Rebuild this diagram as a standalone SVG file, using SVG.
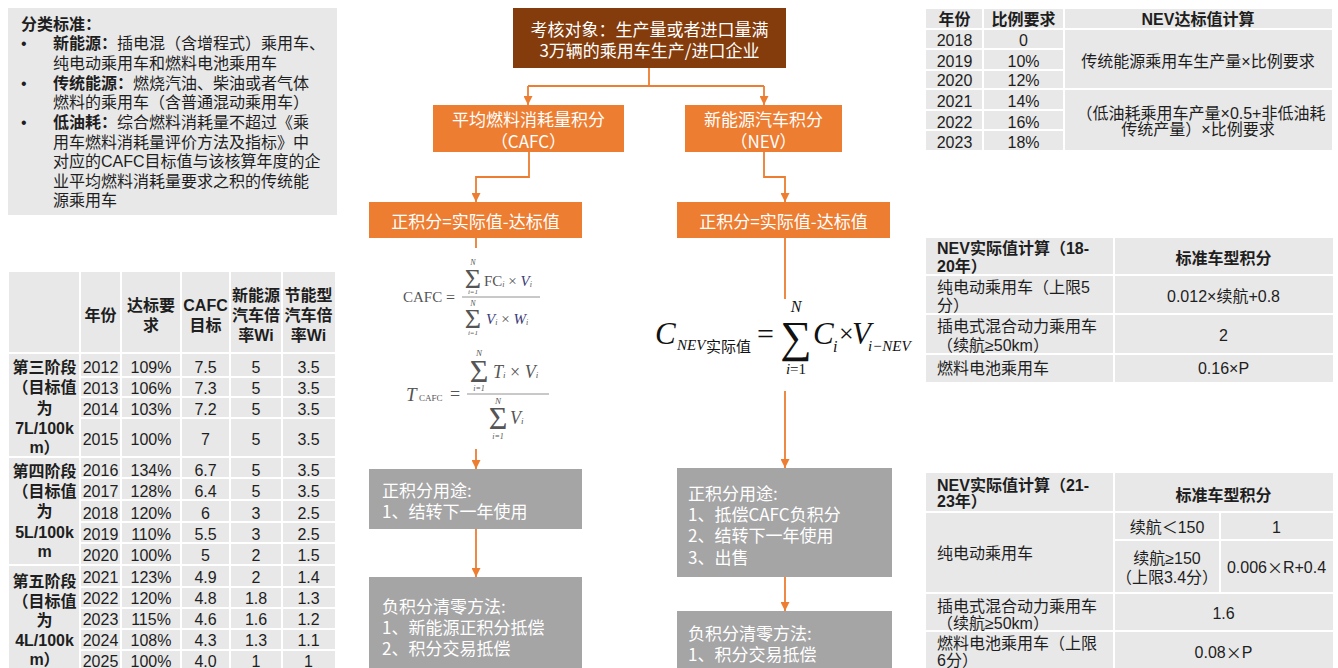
<svg xmlns="http://www.w3.org/2000/svg" width="1338" height="668" viewBox="0 0 1338 668">
<style>
.t{font-family:"Liberation Sans","Noto Sans CJK SC",sans-serif;font-size:16px;fill:#1e1e1e;dominant-baseline:central}
.c{text-anchor:middle}
.b{font-weight:bold}
.fc{font-family:"Noto Sans CJK SC",sans-serif;font-size:17px;fill:#ffffff;dominant-baseline:central}
.cell{fill:#e8e8e8}
.wl{stroke:#ffffff;stroke-width:2;fill:none}
.cn{stroke:#ed7d31;stroke-width:1.8;fill:none}
.m{font-family:"Liberation Serif",serif;dominant-baseline:central;fill:#555}
.mi{font-style:italic}
.bl{fill:#3b3b78}
.k{fill:#111}
.cj{font-family:"Noto Sans CJK SC",sans-serif}
</style>
<defs>
<marker id="ah" viewBox="0 0 10 10" refX="10" refY="5" markerWidth="9" markerHeight="9" markerUnits="userSpaceOnUse" orient="auto">
<path d="M0,0 L10,5 L0,10 z" fill="#ed7d31"/>
</marker>
</defs>

<!-- Top-left classification box -->
<g id="classification">
<rect x="8" y="8" width="329" height="207" class="cell"/>
<text class="t b" x="21" y="24">分类标准：</text>
<text class="t" x="21" y="43">•</text>
<text class="t" x="53" y="43"><tspan class="b">新能源：</tspan>插电混（含增程式）乘用车、</text>
<text class="t" x="53" y="63">纯电动乘用车和燃料电池乘用车</text>
<text class="t" x="21" y="83">•</text>
<text class="t" x="53" y="83"><tspan class="b">传统能源：</tspan>燃烧汽油、柴油或者气体</text>
<text class="t" x="53" y="102">燃料的乘用车（含普通混动乘用车）</text>
<text class="t" x="21" y="122">•</text>
<text class="t" x="53" y="122"><tspan class="b">低油耗：</tspan>综合燃料消耗量不超过《乘</text>
<text class="t" x="53" y="142">用车燃料消耗量评价方法及指标》中</text>
<text class="t" x="53" y="161">对应的CAFC目标值与该核算年度的企</text>
<text class="t" x="53" y="181">业平均燃料消耗量要求之积的传统能</text>
<text class="t" x="53" y="200">源乘用车</text>
</g>

<!-- Left CAFC table -->
<g id="cafc-table">
<rect x="9" y="272" width="326" height="400" class="cell"/>
<path class="wl" d="M80,272V668 M121,272V668 M181,272V668 M230,272V668 M282,272V668 M9,353H335 M80,377H335 M80,397H335 M80,418H335 M9,457H335 M80,478H335 M80,500H335 M80,522H335 M80,543H335 M9,565H335 M80,587H335 M80,608H335 M80,629H335 M80,650H335"/>
<text class="t b c" x="100.5" y="315">年份</text>
<text class="t b c" x="151" y="305">达标要</text>
<text class="t b c" x="151" y="325">求</text>
<text class="t b c" x="205.5" y="305">CAFC</text>
<text class="t b c" x="205.5" y="325">目标</text>
<text class="t b c" x="256" y="295">新能源</text>
<text class="t b c" x="256" y="315">汽车倍</text>
<text class="t b c" x="256" y="335">率Wi</text>
<text class="t b c" x="308.5" y="295">节能型</text>
<text class="t b c" x="308.5" y="315">汽车倍</text>
<text class="t b c" x="308.5" y="335">率Wi</text>
<text class="t b c" x="44.5" y="367">第三阶段</text>
<text class="t b c" x="44.5" y="387">（目标值</text>
<text class="t b c" x="44.5" y="408">为</text>
<text class="t b c" x="44.5" y="428">7L/100k</text>
<text class="t b c" x="44.5" y="447">m）</text>
<text class="t b c" x="44.5" y="471">第四阶段</text>
<text class="t b c" x="44.5" y="491">（目标值</text>
<text class="t b c" x="44.5" y="511">为</text>
<text class="t b c" x="44.5" y="532">5L/100k</text>
<text class="t b c" x="44.5" y="551">m</text>
<text class="t b c" x="44.5" y="581">第五阶段</text>
<text class="t b c" x="44.5" y="601">（目标值</text>
<text class="t b c" x="44.5" y="620">为</text>
<text class="t b c" x="44.5" y="640">4L/100k</text>
<text class="t b c" x="44.5" y="659">m）</text>
<text class="t c" x="100.5" y="367">2012</text><text class="t c" x="151" y="367">109%</text><text class="t c" x="205.5" y="367">7.5</text><text class="t c" x="256" y="367">5</text><text class="t c" x="308.5" y="367">3.5</text>
<text class="t c" x="100.5" y="388">2013</text><text class="t c" x="151" y="388">106%</text><text class="t c" x="205.5" y="388">7.3</text><text class="t c" x="256" y="388">5</text><text class="t c" x="308.5" y="388">3.5</text>
<text class="t c" x="100.5" y="409">2014</text><text class="t c" x="151" y="409">103%</text><text class="t c" x="205.5" y="409">7.2</text><text class="t c" x="256" y="409">5</text><text class="t c" x="308.5" y="409">3.5</text>
<text class="t c" x="100.5" y="439">2015</text><text class="t c" x="151" y="439">100%</text><text class="t c" x="205.5" y="439">7</text><text class="t c" x="256" y="439">5</text><text class="t c" x="308.5" y="439">3.5</text>
<text class="t c" x="100.5" y="470">2016</text><text class="t c" x="151" y="470">134%</text><text class="t c" x="205.5" y="470">6.7</text><text class="t c" x="256" y="470">5</text><text class="t c" x="308.5" y="470">3.5</text>
<text class="t c" x="100.5" y="491">2017</text><text class="t c" x="151" y="491">128%</text><text class="t c" x="205.5" y="491">6.4</text><text class="t c" x="256" y="491">5</text><text class="t c" x="308.5" y="491">3.5</text>
<text class="t c" x="100.5" y="513">2018</text><text class="t c" x="151" y="513">120%</text><text class="t c" x="205.5" y="513">6</text><text class="t c" x="256" y="513">3</text><text class="t c" x="308.5" y="513">2.5</text>
<text class="t c" x="100.5" y="534">2019</text><text class="t c" x="151" y="534">110%</text><text class="t c" x="205.5" y="534">5.5</text><text class="t c" x="256" y="534">3</text><text class="t c" x="308.5" y="534">2.5</text>
<text class="t c" x="100.5" y="555">2020</text><text class="t c" x="151" y="555">100%</text><text class="t c" x="205.5" y="555">5</text><text class="t c" x="256" y="555">2</text><text class="t c" x="308.5" y="555">1.5</text>
<text class="t c" x="100.5" y="577">2021</text><text class="t c" x="151" y="577">123%</text><text class="t c" x="205.5" y="577">4.9</text><text class="t c" x="256" y="577">2</text><text class="t c" x="308.5" y="577">1.4</text>
<text class="t c" x="100.5" y="598">2022</text><text class="t c" x="151" y="598">120%</text><text class="t c" x="205.5" y="598">4.8</text><text class="t c" x="256" y="598">1.8</text><text class="t c" x="308.5" y="598">1.3</text>
<text class="t c" x="100.5" y="619">2023</text><text class="t c" x="151" y="619">115%</text><text class="t c" x="205.5" y="619">4.6</text><text class="t c" x="256" y="619">1.6</text><text class="t c" x="308.5" y="619">1.2</text>
<text class="t c" x="100.5" y="640">2024</text><text class="t c" x="151" y="640">108%</text><text class="t c" x="205.5" y="640">4.3</text><text class="t c" x="256" y="640">1.3</text><text class="t c" x="308.5" y="640">1.1</text>
<text class="t c" x="100.5" y="661">2025</text><text class="t c" x="151" y="661">100%</text><text class="t c" x="205.5" y="661">4.0</text><text class="t c" x="256" y="661">1</text><text class="t c" x="308.5" y="661">1</text>
</g>

<!-- Connectors -->
<g id="connectors">
<path class="cn" d="M649,68V86 M528,86H764"/>
<path class="cn" d="M528,86V105" marker-end="url(#ah)"/>
<path class="cn" d="M764,86V105" marker-end="url(#ah)"/>
<path class="cn" d="M529,152V177H476V202" marker-end="url(#ah)"/>
<path class="cn" d="M764,152V177H785V202" marker-end="url(#ah)"/>
<path class="cn" d="M476,238V248"/>
<path class="cn" d="M476,449V469" marker-end="url(#ah)"/>
<path class="cn" d="M785,238V299"/>
<path class="cn" d="M785,391V468" marker-end="url(#ah)"/>
<path class="cn" d="M476,529V577" marker-end="url(#ah)"/>
<path class="cn" d="M785,577V611" marker-end="url(#ah)"/>
</g>

<!-- Flowchart nodes -->
<g id="target">
<rect x="513" y="8" width="273" height="60" fill="#843c0c"/>
<text class="fc c" x="649.5" y="28">考核对象：生产量或者进口量满</text>
<text class="fc c" x="649.5" y="49">3万辆的乘用车生产/进口企业</text>
</g>
<g id="cafc">
<rect x="433" y="105" width="191" height="47" fill="#ed7d31"/>
<text class="fc c" x="528.5" y="118">平均燃料消耗量积分</text>
<text class="fc c" x="528.5" y="140">（CAFC）</text>
</g>
<g id="nev">
<rect x="685" y="105" width="157" height="47" fill="#ed7d31"/>
<text class="fc c" x="763.5" y="118">新能源汽车积分</text>
<text class="fc c" x="763.5" y="140">（NEV）</text>
</g>
<g id="cafc-credit">
<rect x="369" y="202" width="213" height="36" fill="#ed7d31"/>
<text class="fc c" x="475.5" y="220">正积分=实际值-达标值</text>
</g>
<g id="nev-credit">
<rect x="677" y="202" width="213" height="36" fill="#ed7d31"/>
<text class="fc c" x="783.5" y="220">正积分=实际值-达标值</text>
</g>
<g id="cafc-use">
<rect x="369" y="469" width="213" height="60" fill="#a5a5a5"/>
<text class="fc" x="382" y="489">正积分用途:</text>
<text class="fc" x="382" y="510">1、结转下一年使用</text>
</g>
<g id="cafc-neg">
<rect x="369" y="577" width="213" height="95" fill="#a5a5a5"/>
<text class="fc" x="382" y="605">负积分清零方法:</text>
<text class="fc" x="382" y="626">1、新能源正积分抵偿</text>
<text class="fc" x="382" y="647">2、积分交易抵偿</text>
</g>
<g id="nev-use">
<rect x="677" y="468" width="215" height="109" fill="#a5a5a5"/>
<text class="fc" x="688" y="492">正积分用途:</text>
<text class="fc" x="688" y="513">1、抵偿CAFC负积分</text>
<text class="fc" x="688" y="534">2、结转下一年使用</text>
<text class="fc" x="688" y="556">3、出售</text>
</g>
<g id="nev-neg">
<rect x="677" y="611" width="215" height="61" fill="#a5a5a5"/>
<text class="fc" x="688" y="632">负积分清零方法:</text>
<text class="fc" x="688" y="653">1、积分交易抵偿</text>
</g>

<!-- CAFC formulas -->
<g id="cafc-formula">
<text class="m" x="403" y="297" font-size="15">CAFC</text>
<text class="m" x="446" y="297" font-size="16">=</text>
<line x1="462" y1="297" x2="540" y2="297" stroke="#777" stroke-width="0.8"/>
<text class="m mi c" x="473" y="262" font-size="8">N</text>
<text class="m c" x="473" y="278" font-size="28">Σ</text>
<text class="m mi c" x="473" y="292" font-size="7">i=1</text>
<text class="m" x="484" y="281" font-size="15">FC<tspan font-size="8" font-style="italic" dy="3">i</tspan><tspan dy="-3"> × </tspan><tspan class="bl" font-style="italic">V</tspan><tspan font-size="8" font-style="italic" dy="3">i</tspan></text>
<text class="m mi c" x="473" y="303" font-size="8">N</text>
<text class="m c" x="473" y="318" font-size="28">Σ</text>
<text class="m mi c" x="473" y="333" font-size="7">i=1</text>
<text class="m" x="486" y="319" font-size="15"><tspan class="bl" font-style="italic">V</tspan><tspan font-size="8" font-style="italic" dy="3">i</tspan><tspan dy="-3"> × </tspan><tspan class="bl" font-style="italic">W</tspan><tspan font-size="8" font-style="italic" dy="3">i</tspan></text>
</g>
<g id="tcafc-formula">
<text class="m mi" x="406" y="394" font-size="19">T</text>
<text class="m" x="419" y="398" font-size="9">CAFC</text>
<text class="m" x="450" y="394" font-size="18">=</text>
<line x1="467" y1="394" x2="549" y2="394" stroke="#777" stroke-width="0.8"/>
<text class="m mi c" x="479" y="353" font-size="9">N</text>
<text class="m c" x="479" y="371" font-size="32">Σ</text>
<text class="m mi c" x="479" y="388" font-size="8">i=1</text>
<text class="m" x="493" y="372" font-size="18"><tspan font-style="italic">T</tspan><tspan font-size="9" font-style="italic" dy="3">i</tspan><tspan dy="-3"> × </tspan><tspan font-style="italic">V</tspan><tspan font-size="9" font-style="italic" dy="3">i</tspan></text>
<text class="m mi c" x="498" y="401" font-size="9">N</text>
<text class="m c" x="498" y="418" font-size="32">Σ</text>
<text class="m mi c" x="498" y="436" font-size="8">i=1</text>
<text class="m" x="510" y="418" font-size="18"><tspan font-style="italic">V</tspan><tspan font-size="9" font-style="italic" dy="3">i</tspan></text>
</g>

<!-- NEV formula -->
<g id="nev-formula">
<text class="m mi k" x="655" y="333" font-size="31">C</text>
<text class="m mi k" x="677" y="345" font-size="15">NEV</text>
<text class="k cj" x="706" y="345" font-size="15" dominant-baseline="central">实际值</text>
<text class="m k" x="757" y="333" font-size="30">=</text>
<text class="m mi k c" x="796" y="306" font-size="16">N</text>
<text class="m k c" x="796" y="337" font-size="44">∑</text>
<text class="m k c" x="796" y="369" font-size="15"><tspan font-style="italic">i</tspan>=1</text>
<text class="m mi k" x="813" y="333" font-size="31">C</text>
<text class="m mi k" x="833" y="346" font-size="16">i</text>
<text class="m k" x="839" y="333" font-size="26">×</text>
<text class="m mi k" x="852" y="333" font-size="31">V</text>
<text class="m mi k" x="868" y="346" font-size="15">i−NEV</text>
</g>

<!-- Right table 1 -->
<g id="nev-target-table">
<rect x="926" y="9" width="406" height="141" class="cell"/>
<path class="wl" d="M983,9V150 M1064,9V150 M926,29H1332 M926,49H1064 M926,70H1064 M926,89H1332 M926,110H1064 M926,130H1064"/>
<text class="t b c" x="954.5" y="19">年份</text>
<text class="t b c" x="1023.5" y="19">比例要求</text>
<text class="t b c" x="1198" y="19">NEV达标值计算</text>
<text class="t c" x="954.5" y="40">2018</text><text class="t c" x="1023.5" y="40">0</text>
<text class="t c" x="954.5" y="61">2019</text><text class="t c" x="1023.5" y="61">10%</text>
<text class="t c" x="954.5" y="80">2020</text><text class="t c" x="1023.5" y="80">12%</text>
<text class="t c" x="954.5" y="101">2021</text><text class="t c" x="1023.5" y="101">14%</text>
<text class="t c" x="954.5" y="122">2022</text><text class="t c" x="1023.5" y="122">16%</text>
<text class="t c" x="954.5" y="142">2023</text><text class="t c" x="1023.5" y="142">18%</text>
<text class="t c" x="1198" y="61">传统能源乘用车生产量×比例要求</text>
<text class="t c" x="1201" y="113">（低油耗乘用车产量×0.5+非低油耗</text>
<text class="t c" x="1198" y="129">传统产量）×比例要求</text>
</g>

<!-- Right table 2 -->
<g id="nev-actual-18-20">
<rect x="926" y="238" width="407" height="144" class="cell"/>
<path class="wl" d="M1114,238V382 M926,275H1333 M926,314H1333 M926,354H1333"/>
<text class="t b" x="937" y="248">NEV实际值计算（18-</text>
<text class="t b" x="937" y="266">20年）</text>
<text class="t b c" x="1223.5" y="258">标准车型积分</text>
<text class="t" x="937" y="287">纯电动乘用车（上限5</text>
<text class="t" x="937" y="305">分）</text>
<text class="t c" x="1223.5" y="296">0.012×续航+0.8</text>
<text class="t" x="937" y="326">插电式混合动力乘用车</text>
<text class="t" x="937" y="345">（续航≥50km）</text>
<text class="t c" x="1223.5" y="335">2</text>
<text class="t" x="937" y="368">燃料电池乘用车</text>
<text class="t c" x="1223.5" y="368">0.16×P</text>
</g>

<!-- Right table 3 -->
<g id="nev-actual-21-23">
<rect x="926" y="473" width="407" height="199" class="cell"/>
<path class="wl" d="M1114,473V668 M1220,512V593 M926,512H1333 M1114,540H1333 M926,593H1333 M926,631H1333"/>
<text class="t b" x="937" y="485">NEV实际值计算（21-</text>
<text class="t b" x="937" y="501">23年）</text>
<text class="t b c" x="1223.5" y="495">标准车型积分</text>
<text class="t" x="937" y="553">纯电动乘用车</text>
<text class="t c" x="1167" y="527">续航＜150</text>
<text class="t c" x="1276.5" y="527">1</text>
<text class="t c" x="1167" y="558">续航≥150</text>
<text class="t c" x="1167" y="577">（上限3.4分）</text>
<text class="t c" x="1276.5" y="567">0.006<tspan class="cj">×</tspan>R+0.4</text>
<text class="t" x="937" y="606">插电式混合动力乘用车</text>
<text class="t" x="937" y="623">（续航≥50km）</text>
<text class="t c" x="1223.5" y="613">1.6</text>
<text class="t" x="937" y="643">燃料电池乘用车（上限</text>
<text class="t" x="937" y="660">6分）</text>
<text class="t c" x="1223.5" y="652">0.08<tspan class="cj">×</tspan>P</text>
</g>
</svg>
